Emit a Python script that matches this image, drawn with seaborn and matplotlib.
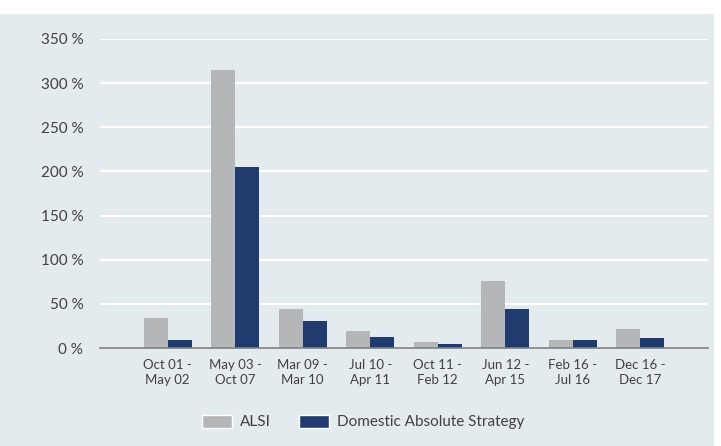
import matplotlib
matplotlib.use("Agg")
import matplotlib.pyplot as plt
from matplotlib.patches import Rectangle
import seaborn as sns
import pandas as pd

categories = ["Oct 01 -\nMay 02", "May 03 -\nOct 07", "Mar 09 -\nMar 10", "Jul 10 -\nApr 11",
              "Oct 11 -\nFeb 12", "Jun 12 -\nApr 15", "Feb 16 -\nJul 16", "Dec 16 -\nDec 17"]
alsi = [34.3, 315, 43.7, 18.7, 6.7, 76, 8.6, 21.3]
das = [8.6, 205, 31, 13, 4.9, 44.4, 9.3, 10.8]
series = ["ALSI", "Domestic Absolute Strategy"]
yticks = [0, 50, 100, 150, 200, 250, 300, 350]

df = pd.DataFrame({
    "period": categories * 2,
    "value": alsi + das,
    "series": [series[0]] * len(categories) + [series[1]] * len(categories),
})

sns.set_theme(style="white")
plt.rcParams["font.family"] = ["Lato", "DejaVu Sans"]

bg = "#E4EBEF"
txt = "#404040"
W, H = 721, 446
fig = plt.figure(figsize=(W / 100, H / 100), dpi=100, facecolor="white")
fig.patches.append(Rectangle((0, 0), 714 / W, 432 / H, transform=fig.transFigure,
                             facecolor=bg, edgecolor="none", zorder=-10))

ax = fig.add_axes([100 / W, 1 - 348 / H, 608 / W, (348 - 39) / H])
ax.set_facecolor("none")

sns.barplot(data=df, x="period", y="value", hue="series", order=categories,
            hue_order=series, palette=["#B5B6B8", "#213B6E"], width=0.71,
            gap=0, saturation=1, ax=ax, legend=False, linewidth=0)

ax.set_xlim(-1, 8)
ax.set_ylim(0, 350)
ax.set_yticks(yticks)
ax.set_yticklabels([f"{v} %" for v in yticks], fontsize=11, color=txt)
ax.set_xticks(range(len(categories)))
ax.set_xticklabels(categories, fontsize=9.5, color=txt, linespacing=1.25)
ax.set_xticks([-1, 8], minor=True)
ax.set_xlabel("")
ax.set_ylabel("")

ax.yaxis.grid(True, color="white", linewidth=1.5)
ax.set_axisbelow(True)
for s in ["top", "right", "left"]:
    ax.spines[s].set_visible(False)
ax.spines["bottom"].set_color("#808080")
ax.spines["bottom"].set_linewidth(1.2)
ax.tick_params(axis="y", length=0, pad=12)
ax.tick_params(axis="x", which="both", length=5, width=1, color="#808080",
               direction="out", pad=3)

handles = [Rectangle((0, 0), 1, 1, facecolor="#B5B6B8"),
           Rectangle((0, 0), 1, 1, facecolor="#213B6E")]
leg = fig.legend(handles, series, loc="center", bbox_to_anchor=(363 / W, 1 - 422 / H),
                 ncol=2, frameon=False, fontsize=11, handlelength=2.0,
                 handleheight=0.95, columnspacing=1.8, handletextpad=0.5)
for t in leg.get_texts():
    t.set_color(txt)

fig.savefig("out.png", dpi=100, facecolor="white")
